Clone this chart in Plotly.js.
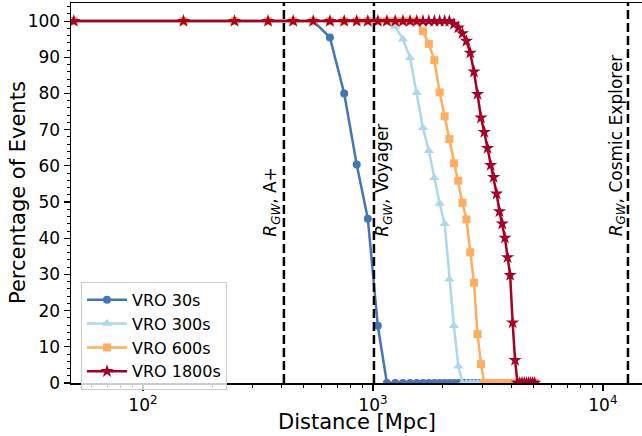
<!DOCTYPE html>
<html>
<head>
<meta charset="utf-8">
<script src="https://cdn.plot.ly/plotly-3.0.1.min.js"></script>
<style>html,body{margin:0;padding:0;background:#fff;}#chart{width:642px;height:436px;}</style>
</head>
<body>
<div id="chart"></div>
<script>
// Distance grid [Mpc]
var distance = [50,150,250,350,450,550,650,750,850,950,1050,1150,1250,1350,1450,1550,1650,1750,1850,1950,
  2050,2150,2250,2350,2450,2550,2650,2750,2850,2950,3050,3150,3250,3350,3450,3550,3650,3750,3850,3950,
  4050,4150,4250,4350,4450,4550,4650,4750,4850,4950,5050];

var vro30 = [100,100,100,100,100,100,95.5,80,60.4,45.4,15.8,0,0,0,0,0,0,0,0,0,
  0,0,0,0,0,0,0,0,0,0,0,0,0,0,0,0,0,0,0,0,
  0,0,0,0,0,0,0,0,0,0,0];

var vro300 = [100,100,100,100,100,100,100,100,100,100,100,100,98.5,95,89.9,80.2,70.5,64.2,56.7,49.6,
  44,28.7,15.8,4.6,0,0,0,0,0,0,0,0,0,0,0,0,0,0,0,0,
  0,0,0,0,0,0,0,0,0,0,0];

var vro600 = [100,100,100,100,100,100,100,100,100,100,100,100,100,100,100,100,97.2,93.7,89.2,80.3,
  73.7,67.4,60.7,55.9,49.8,45.2,36.1,27.7,13.5,5.2,0,0,0,0,0,0,0,0,0,0,
  0,0,0,0,0,0,0,0,0,0,0];

var vro1800 = [100,100,100,100,100,100,100,100,100,100,100,100,100,100,100,100,100,100,100,100,
  100,100,99.2,98.2,96.6,94.5,91.2,86,79.8,73.3,69.3,64.9,60.2,56.9,52.3,47.4,44,40.1,34.7,29.8,
  16.7,6.3,0,0,0,0,0,0,0,0,0];

var seriesNames = ['VRO 30s','VRO 300s','VRO 600s','VRO 1800s'];
var seriesColors = ['#4575b4','#abd9e9','#fdae61','#a50026'];
var seriesSymbols = ['circle','triangle-up','square','star'];
var seriesSizes = [8,9,8,10];
var seriesValues = [vro30, vro300, vro600, vro1800];

// Detector horizons [Mpc]
var horizonNames = ['A+','Voyager','Cosmic Explorer'];
var horizonValues = [410, 1010, 12850];
var horizonShift = [-12, 10, -11];
var labelY = 40;

var xTitle = 'Distance [Mpc]';
var yTitle = 'Percentage of Events';

var traces = seriesNames.map(function(n, i){
  return {
    x: distance, y: seriesValues[i], name: n, type: 'scatter', mode: 'lines+markers',
    line: {color: seriesColors[i], width: 2.5},
    marker: {color: seriesColors[i], symbol: seriesSymbols[i], size: seriesSizes[i], line: {width: 0}},
    cliponaxis: true
  };
});

var shapes = horizonValues.map(function(v){
  return {type: 'line', xref: 'x', yref: 'paper', x0: v, x1: v, y0: 0, y1: 1,
    line: {color: '#000', width: 2.5, dash: '9px,4px'}};
});

var annotations = horizonValues.map(function(v, i){
  return {xref: 'x', yref: 'y', x: Math.log10(v), y: labelY, xshift: horizonShift[i],
    text: '<i>R</i><sub><i>GW</i></sub>, ' + horizonNames[i], showarrow: false, textangle: -90,
    xanchor: 'center', yanchor: 'bottom', font: {family: 'DejaVu Sans', size: 17, color: '#000'}};
});
annotations.push({xref: 'paper', yref: 'paper', x: 0.5, y: 0, yshift: -39, xanchor: 'center', yanchor: 'middle',
  text: xTitle, showarrow: false, font: {family: 'DejaVu Sans', size: 21, color: '#000'}});
annotations.push({xref: 'paper', yref: 'paper', x: 0, y: 0.5, xshift: -53, xanchor: 'center', yanchor: 'middle',
  text: yTitle, textangle: -90, showarrow: false, font: {family: 'DejaVu Sans', size: 21, color: '#000'}});

var layout = {
  width: 642, height: 436,
  margin: {l: 71, r: 0, t: 3, b: 53, pad: 0},
  paper_bgcolor: '#fff', plot_bgcolor: '#fff',
  font: {family: 'DejaVu Sans', color: '#000'},
  showlegend: true,
  legend: {x: 0.0175, y: 0.266, xanchor: 'left', yanchor: 'top', itemwidth: 40,
    bgcolor: 'rgba(255,255,255,0.8)', bordercolor: '#cccccc', borderwidth: 1,
    font: {family: 'DejaVu Sans', size: 16, color: '#000'}},
  xaxis: {
    type: 'log', range: [1.687, 4.170],
    showgrid: false, zeroline: false, showline: true, linecolor: '#000', linewidth: 1.5, mirror: true,
    ticks: 'outside', ticklen: 6, tickwidth: 1.2, tickcolor: '#000',
    tickmode: 'array', tickvals: [100, 1000, 10000],
    ticktext: ['10<sup>2</sup>', '10<sup>3</sup>', '10<sup>4</sup>'],
    tickfont: {family: 'DejaVu Sans', size: 17, color: '#000'},
    minor: {ticks: 'outside', ticklen: 3, tickwidth: 1, tickcolor: '#000',
      tickmode: 'array', tickvals: [60,70,80,90,200,300,400,500,600,700,800,900,2000,3000,4000,5000,6000,7000,8000,9000]}
  },
  yaxis: {
    range: [0, 105],
    showgrid: false, zeroline: false, showline: true, linecolor: '#000', linewidth: 1.5, mirror: false,
    ticks: 'outside', ticklen: 6, tickwidth: 1.2, tickcolor: '#000',
    tickmode: 'linear', tick0: 0, dtick: 10,
    tickfont: {family: 'DejaVu Sans', size: 17, color: '#000'},
    minor: {ticks: 'outside', ticklen: 3, tickwidth: 1, tickcolor: '#000', dtick: 2}
  },
  shapes: shapes,
  annotations: annotations
};

Plotly.newPlot('chart', traces, layout, {displayModeBar: false, staticPlot: true});
</script>
</body>
</html>
